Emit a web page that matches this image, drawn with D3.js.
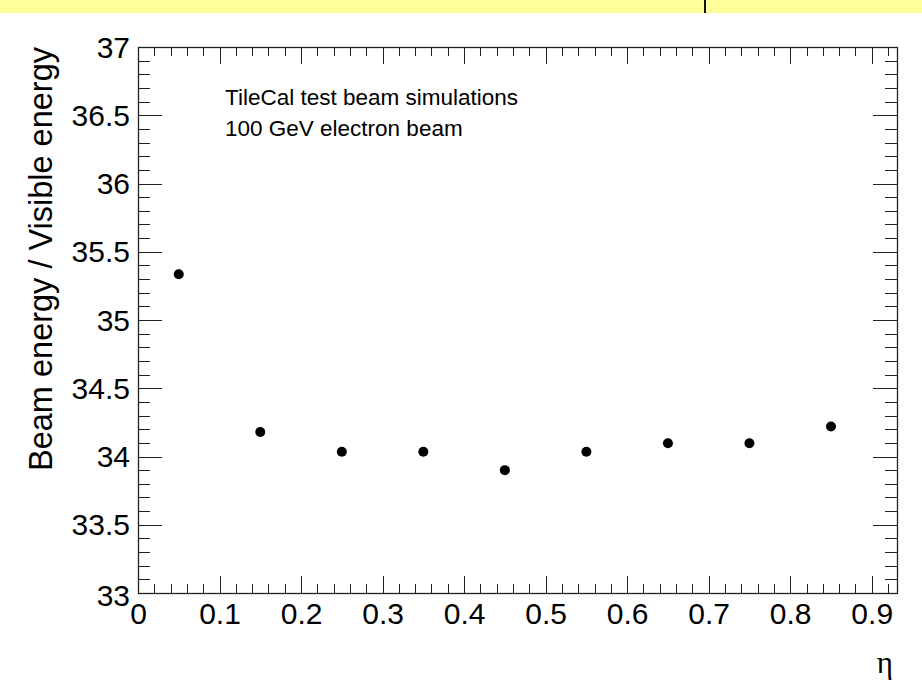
<!DOCTYPE html>
<html>
<head>
<meta charset="utf-8">
<script src="https://cdn.jsdelivr.net/npm/d3@7"></script>
<style>
  body { margin: 0; background: #fff; }
  svg { display: block; }
  text { font-family: "Liberation Sans", Arial, Helvetica, sans-serif; fill: #000; }
</style>
</head>
<body>
<svg id="chart"></svg>
<script>
// data
const etaValues = [0.05, 0.15, 0.25, 0.35, 0.45, 0.55, 0.65, 0.75, 0.85];
const ratioValues = [35.335, 34.18, 34.035, 34.035, 33.90, 34.035, 34.097, 34.097, 34.22];

const xMajorTicks = [0, 0.1, 0.2, 0.3, 0.4, 0.5, 0.6, 0.7, 0.8, 0.9];
const yMajorTicks = [33, 33.5, 34, 34.5, 35, 35.5, 36, 36.5, 37];
const xMinorTicks = d3.range(0, 47).map(i => i * 0.02).filter(v => v <= 0.93);
const yMinorTicks = d3.range(0, 41).map(i => 33 + i * 0.1);

const labelLines = ["TileCal test beam simulations", "100 GeV electron beam"];
const yTitle = "Beam energy / Visible energy";
const xTitle = "η";

const width = 922, height = 695;
const frame = { left: 138, right: 897, top: 47, bottom: 593 };

const svg = d3.select("#chart")
  .attr("width", width)
  .attr("height", height);

svg.append("rect")
  .attr("width", width)
  .attr("height", height)
  .attr("fill", "#fff");

// yellow strip at the very top
svg.append("rect")
  .attr("x", 0).attr("y", 0)
  .attr("width", width).attr("height", 13)
  .attr("fill", "#ffff99");
svg.append("rect")
  .attr("x", 704).attr("y", 0)
  .attr("width", 2).attr("height", 13)
  .attr("fill", "#111");

const xScale = d3.scaleLinear()
  .domain([0, 0.931])
  .range([frame.left, frame.right]);

const yScale = d3.scaleLinear()
  .domain([33, 37])
  .range([frame.bottom, frame.top]);

const fmt = d => String(+d.toFixed(1));

function drawAxis(axis, tx, ty, showLabels) {
  const g = svg.append("g")
    .attr("transform", `translate(${tx},${ty})`)
    .call(axis);
  g.select(".domain").remove();
  g.selectAll(".tick line").attr("stroke", "#222").attr("shape-rendering", "crispEdges");
  if (!showLabels) g.selectAll(".tick text").remove();
  return g;
}

// y axis, left side
drawAxis(d3.axisLeft(yScale).tickValues(yMinorTicks).tickSize(-12).tickFormat(""), frame.left, 0, false);
const yAxisG = drawAxis(d3.axisLeft(yScale).tickValues(yMajorTicks).tickSize(-24).tickFormat(fmt), frame.left, 0, true);
yAxisG.selectAll(".tick text")
  .attr("x", -8)
  .attr("dy", (d, i) => i === 0 ? "0.4em" : "0.34em")
  .attr("font-size", 30)
  .attr("font-family", "Liberation Sans, Arial, sans-serif");

// y axis, right side (ticks only)
drawAxis(d3.axisRight(yScale).tickValues(yMinorTicks).tickSize(-12), frame.right, 0, false);
drawAxis(d3.axisRight(yScale).tickValues(yMajorTicks).tickSize(-24), frame.right, 0, false);

// x axis, bottom
drawAxis(d3.axisBottom(xScale).tickValues(xMinorTicks).tickSize(-9).tickFormat(""), 0, frame.bottom, false);
const xAxisG = drawAxis(d3.axisBottom(xScale).tickValues(xMajorTicks).tickSize(-17).tickFormat(fmt), 0, frame.bottom, true);
xAxisG.selectAll(".tick text")
  .attr("y", 10)
  .attr("font-size", 30)
  .attr("font-family", "Liberation Sans, Arial, sans-serif");

// x axis, top (ticks only)
drawAxis(d3.axisTop(xScale).tickValues(xMinorTicks).tickSize(-9), 0, frame.top, false);
drawAxis(d3.axisTop(xScale).tickValues(xMajorTicks).tickSize(-17), 0, frame.top, false);

// frame
svg.append("rect")
  .attr("x", frame.left + 0.5)
  .attr("y", frame.top + 0.5)
  .attr("width", frame.right - frame.left)
  .attr("height", frame.bottom - frame.top)
  .attr("fill", "none")
  .attr("stroke", "#222")
  .attr("stroke-width", 1.3);

// points
svg.append("g")
  .selectAll("circle")
  .data(etaValues)
  .join("circle")
  .attr("cx", d => xScale(d))
  .attr("cy", (d, i) => yScale(ratioValues[i]))
  .attr("r", 5)
  .attr("fill", "#000");

// annotation
svg.append("g")
  .selectAll("text")
  .data(labelLines)
  .join("text")
  .attr("x", 225)
  .attr("y", (d, i) => 105 + i * 31)
  .attr("font-size", 22.5)
  .text(d => d);

// axis titles
svg.append("text")
  .attr("transform", `translate(52,${frame.top}) rotate(-90)`)
  .attr("text-anchor", "end")
  .attr("font-size", 32.5)
  .text(yTitle);

svg.append("text")
  .attr("x", 893)
  .attr("y", 673)
  .attr("text-anchor", "end")
  .attr("font-size", 31)
  .style("font-family", "'Liberation Serif', 'DejaVu Serif', serif")
  .text(xTitle);
</script>
</body>
</html>
